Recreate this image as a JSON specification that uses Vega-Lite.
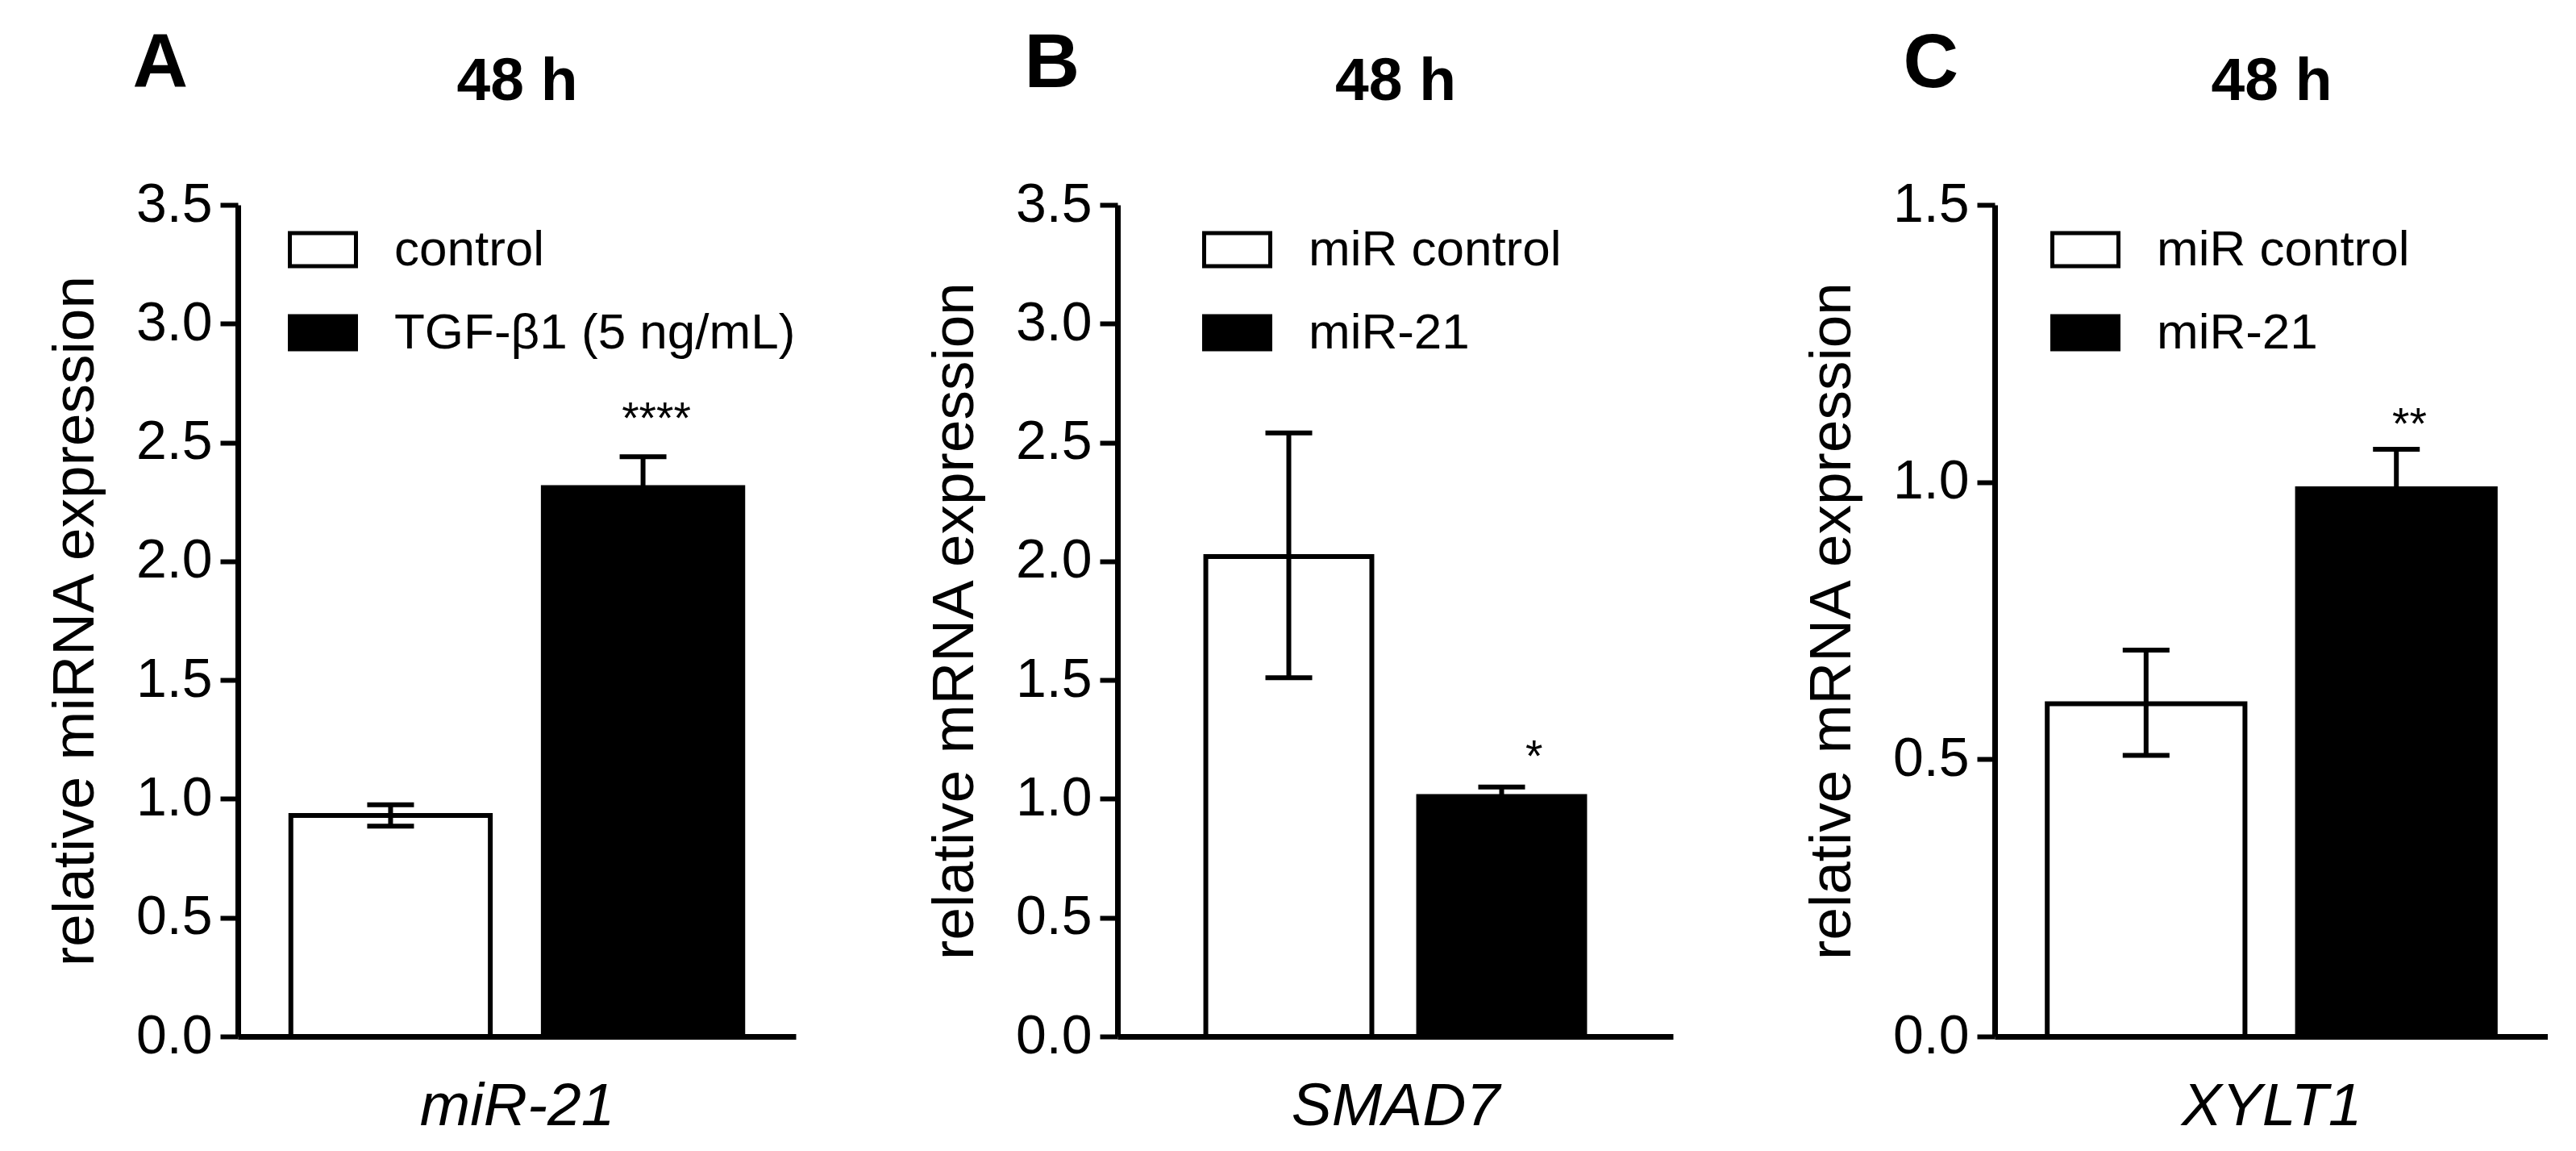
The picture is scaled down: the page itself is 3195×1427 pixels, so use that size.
{
  "$schema": "https://vega.github.io/schema/vega-lite/v6.json",
  "autosize": {"type": "pad"},
  "padding": {"left": 57, "top": 31, "right": 0, "bottom": 0},
  "background": "white",
  "datasets": {
    "A": [
      {"group": "control", "mean": 0.93, "lo": 0.885, "hi": 0.975, "sig": "", "sig_y": 0.93},
      {"group": "TGF-β1 (5 ng/mL)", "mean": 2.31, "lo": 2.18, "hi": 2.44, "sig": "****", "sig_y": 2.54}
    ],
    "B": [
      {"group": "miR control", "mean": 2.02, "lo": 1.51, "hi": 2.54, "sig": "", "sig_y": 2.02},
      {"group": "miR-21", "mean": 1.01, "lo": 0.97, "hi": 1.05, "sig": "*", "sig_y": 1.117}
    ],
    "C": [
      {"group": "miR control", "mean": 0.60, "lo": 0.507, "hi": 0.697, "sig": "", "sig_y": 0.60},
      {"group": "miR-21", "mean": 0.988, "lo": 0.917, "hi": 1.059, "sig": "**", "sig_y": 1.078}
    ]
  },
  "bounds": "flush",
  "spacing": 399,
  "resolve": {"scale": {"fill": "independent"}, "legend": {"fill": "independent"}},
  "hconcat": [
    {
      "width": 692,
      "height": 1031,
      "data": {"name": "A"},
      "resolve": {"scale": {"x": "independent"}, "axis": {"x": "independent"}},
      "layer": [
        {
          "mark": {"type": "bar", "stroke": "black", "strokeWidth": 6},
          "encoding": {
            "x": {"field": "group", "type": "nominal", "sort": null,
              "scale": {"domain": ["control", "TGF-β1 (5 ng/mL)"], "paddingInner": 0.21, "paddingOuter": 0.21},
              "axis": {"title": "miR-21"}},
            "y": {"field": "mean", "type": "quantitative", "scale": {"domain": [0, 3.5], "nice": false, "zero": true},
              "axis": {"title": "relative miRNA expression", "values": [0, 0.5, 1, 1.5, 2, 2.5, 3, 3.5], "format": ".1f"}},
            "fill": {"field": "group", "type": "nominal", "sort": null,
              "scale": {"domain": ["control", "TGF-β1 (5 ng/mL)"], "range": ["white", "black"]},
              "legend": {"title": null, "orient": "none", "legendX": 62, "legendY": 12}}
          }
        },
        {
          "mark": {"type": "rule", "stroke": "black", "strokeWidth": 6},
          "encoding": {
            "x": {"field": "group", "type": "nominal", "sort": null,
              "scale": {"domain": ["control", "TGF-β1 (5 ng/mL)"], "paddingInner": 0.21, "paddingOuter": 0.21},
              "axis": {"orient": "top", "title": "A", "domain": false, "labels": false, "ticks": false,
                "titleX": -131, "titleY": -147, "titleAlign": "left", "titleBaseline": "alphabetic",
                "titleFontSize": 95, "titleFontWeight": "bold", "titleFontStyle": "normal"}},
            "y": {"field": "lo", "type": "quantitative", "axis": {"title": "relative miRNA expression"}},
            "y2": {"field": "hi"}
          }
        },
        {
          "mark": {"type": "tick", "color": "black", "thickness": 6, "size": 58, "opacity": 1},
          "encoding": {
            "x": {"field": "group", "type": "nominal", "sort": null,
              "scale": {"domain": ["control", "TGF-β1 (5 ng/mL)"], "paddingInner": 0.21, "paddingOuter": 0.21}, "axis": null},
            "y": {"field": "hi", "type": "quantitative", "axis": {"title": "relative miRNA expression"}}
          }
        },
        {
          "mark": {"type": "tick", "color": "black", "thickness": 6, "size": 58, "opacity": 1},
          "encoding": {
            "x": {"field": "group", "type": "nominal", "sort": null,
              "scale": {"domain": ["control", "TGF-β1 (5 ng/mL)"], "paddingInner": 0.21, "paddingOuter": 0.21}, "axis": null},
            "y": {"field": "lo", "type": "quantitative", "axis": {"title": "relative miRNA expression"}}
          }
        },
        {
          "mark": {"type": "text", "fontSize": 55, "font": "Liberation Sans", "baseline": "alphabetic", "color": "black"},
          "encoding": {
            "x": {"field": "group", "type": "nominal", "sort": null,
              "scale": {"domain": ["control", "TGF-β1 (5 ng/mL)"], "paddingInner": 0.21, "paddingOuter": 0.21},
              "axis": {"orient": "top", "title": "48 h", "domain": false, "labels": false, "ticks": false,
                "titleY": -131, "titleBaseline": "alphabetic", "titleAlign": "center",
                "titleFontSize": 75, "titleFontWeight": "bold", "titleFontStyle": "normal"}},
            "y": {"field": "sig_y", "type": "quantitative", "axis": {"title": "relative miRNA expression"}},
            "text": {"field": "sig"}
          }
        }
      ]
    },
    {
      "width": 689,
      "height": 1031,
      "data": {"name": "B"},
      "resolve": {"scale": {"x": "independent"}, "axis": {"x": "independent"}},
      "layer": [
        {
          "mark": {"type": "bar", "stroke": "black", "strokeWidth": 6},
          "encoding": {
            "x": {"field": "group", "type": "nominal", "sort": null,
              "scale": {"domain": ["miR control", "miR-21"], "paddingInner": 0.22, "paddingOuter": 0.415},
              "axis": {"title": "SMAD7"}},
            "y": {"field": "mean", "type": "quantitative", "scale": {"domain": [0, 3.5], "nice": false, "zero": true},
              "axis": {"title": "relative mRNA expression", "values": [0, 0.5, 1, 1.5, 2, 2.5, 3, 3.5], "format": ".1f"}},
            "fill": {"field": "group", "type": "nominal", "sort": null,
              "scale": {"domain": ["miR control", "miR-21"], "range": ["white", "black"]},
              "legend": {"title": null, "orient": "none", "legendX": 105, "legendY": 12}}
          }
        },
        {
          "mark": {"type": "rule", "stroke": "black", "strokeWidth": 6},
          "encoding": {
            "x": {"field": "group", "type": "nominal", "sort": null,
              "scale": {"domain": ["miR control", "miR-21"], "paddingInner": 0.22, "paddingOuter": 0.415},
              "axis": {"orient": "top", "title": "B", "domain": false, "labels": false, "ticks": false,
                "titleX": -116, "titleY": -147, "titleAlign": "left", "titleBaseline": "alphabetic",
                "titleFontSize": 95, "titleFontWeight": "bold", "titleFontStyle": "normal"}},
            "y": {"field": "lo", "type": "quantitative", "axis": {"title": "relative mRNA expression"}},
            "y2": {"field": "hi"}
          }
        },
        {
          "mark": {"type": "tick", "color": "black", "thickness": 6, "size": 58, "opacity": 1},
          "encoding": {
            "x": {"field": "group", "type": "nominal", "sort": null,
              "scale": {"domain": ["miR control", "miR-21"], "paddingInner": 0.22, "paddingOuter": 0.415}, "axis": null},
            "y": {"field": "hi", "type": "quantitative", "axis": {"title": "relative mRNA expression"}}
          }
        },
        {
          "mark": {"type": "tick", "color": "black", "thickness": 6, "size": 58, "opacity": 1},
          "encoding": {
            "x": {"field": "group", "type": "nominal", "sort": null,
              "scale": {"domain": ["miR control", "miR-21"], "paddingInner": 0.22, "paddingOuter": 0.415}, "axis": null},
            "y": {"field": "lo", "type": "quantitative", "axis": {"title": "relative mRNA expression"}}
          }
        },
        {
          "mark": {"type": "text", "fontSize": 55, "font": "Liberation Sans", "baseline": "alphabetic", "color": "black"},
          "encoding": {
            "x": {"field": "group", "type": "nominal", "sort": null,
              "scale": {"domain": ["miR control", "miR-21"], "paddingInner": 0.22, "paddingOuter": 0.415},
              "axis": {"orient": "top", "title": "48 h", "domain": false, "labels": false, "ticks": false,
                "titleY": -131, "titleBaseline": "alphabetic", "titleAlign": "center",
                "titleFontSize": 75, "titleFontWeight": "bold", "titleFontStyle": "normal"}},
            "y": {"field": "sig_y", "type": "quantitative", "axis": {"title": "relative mRNA expression"}},
            "text": {"field": "sig"}
          }
        }
      ]
    },
    {
      "width": 686,
      "height": 1031,
      "data": {"name": "C"},
      "resolve": {"scale": {"x": "independent"}, "axis": {"x": "independent"}},
      "layer": [
        {
          "mark": {"type": "bar", "stroke": "black", "strokeWidth": 6},
          "encoding": {
            "x": {"field": "group", "type": "nominal", "sort": null,
              "scale": {"domain": ["miR control", "miR-21"], "paddingInner": 0.21, "paddingOuter": 0.21},
              "axis": {"title": "XYLT1"}},
            "y": {"field": "mean", "type": "quantitative", "scale": {"domain": [0, 1.5], "nice": false, "zero": true},
              "axis": {"title": "relative mRNA expression", "values": [0, 0.5, 1, 1.5], "format": ".1f"}},
            "fill": {"field": "group", "type": "nominal", "sort": null,
              "scale": {"domain": ["miR control", "miR-21"], "range": ["white", "black"]},
              "legend": {"title": null, "orient": "none", "legendX": 69, "legendY": 12}}
          }
        },
        {
          "mark": {"type": "rule", "stroke": "black", "strokeWidth": 6},
          "encoding": {
            "x": {"field": "group", "type": "nominal", "sort": null,
              "scale": {"domain": ["miR control", "miR-21"], "paddingInner": 0.21, "paddingOuter": 0.21},
              "axis": {"orient": "top", "title": "C", "domain": false, "labels": false, "ticks": false,
                "titleX": -114, "titleY": -147, "titleAlign": "left", "titleBaseline": "alphabetic",
                "titleFontSize": 95, "titleFontWeight": "bold", "titleFontStyle": "normal"}},
            "y": {"field": "lo", "type": "quantitative", "axis": {"title": "relative mRNA expression"}},
            "y2": {"field": "hi"}
          }
        },
        {
          "mark": {"type": "tick", "color": "black", "thickness": 6, "size": 58, "opacity": 1},
          "encoding": {
            "x": {"field": "group", "type": "nominal", "sort": null,
              "scale": {"domain": ["miR control", "miR-21"], "paddingInner": 0.21, "paddingOuter": 0.21}, "axis": null},
            "y": {"field": "hi", "type": "quantitative", "axis": {"title": "relative mRNA expression"}}
          }
        },
        {
          "mark": {"type": "tick", "color": "black", "thickness": 6, "size": 58, "opacity": 1},
          "encoding": {
            "x": {"field": "group", "type": "nominal", "sort": null,
              "scale": {"domain": ["miR control", "miR-21"], "paddingInner": 0.21, "paddingOuter": 0.21}, "axis": null},
            "y": {"field": "lo", "type": "quantitative", "axis": {"title": "relative mRNA expression"}}
          }
        },
        {
          "mark": {"type": "text", "fontSize": 55, "font": "Liberation Sans", "baseline": "alphabetic", "color": "black"},
          "encoding": {
            "x": {"field": "group", "type": "nominal", "sort": null,
              "scale": {"domain": ["miR control", "miR-21"], "paddingInner": 0.21, "paddingOuter": 0.21},
              "axis": {"orient": "top", "title": "48 h", "domain": false, "labels": false, "ticks": false,
                "titleY": -131, "titleBaseline": "alphabetic", "titleAlign": "center",
                "titleFontSize": 75, "titleFontWeight": "bold", "titleFontStyle": "normal"}},
            "y": {"field": "sig_y", "type": "quantitative", "axis": {"title": "relative mRNA expression"}},
            "text": {"field": "sig"}
          }
        }
      ]
    }
  ],
  "config": {
    "font": "Liberation Sans",
    "view": {"stroke": null},
    "axis": {
      "grid": false,
      "domainColor": "black", "domainWidth": 7,
      "tickColor": "black", "tickWidth": 6, "tickSize": 22,
      "labelFont": "Liberation Sans", "labelFontSize": 68, "labelColor": "black", "labelPadding": 10,
      "labelFlush": false, "labelOverlap": false, "labelBound": false,
      "titleFont": "Liberation Sans", "titleColor": "black", "titleFontWeight": "normal"
    },
    "axisX": {"labels": false, "ticks": false, "titleFontStyle": "italic", "titleFontSize": 75, "titlePadding": 50},
    "axisY": {"titleFontSize": 73, "titlePadding": 38},
    "legend": {
      "padding": 0,
      "symbolType": "M-1,-0.5H1V0.5H-1Z",
      "symbolSize": 6724,
      "symbolStrokeColor": "black",
      "symbolStrokeWidth": 5,
      "symbolOpacity": 1,
      "labelFont": "Liberation Sans", "labelFontSize": 62, "labelColor": "black",
      "labelLimit": 2000, "labelOffset": 45, "rowPadding": 28
    }
  }
}
